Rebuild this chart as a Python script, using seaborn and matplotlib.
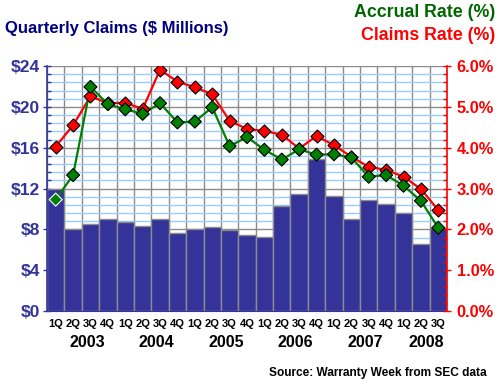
#!/usr/bin/env python3
"""Quarterly warranty claims with accrual and claims rates."""

import matplotlib

matplotlib.use("Agg")

import matplotlib.pyplot as plt
import matplotlib.transforms as mtransforms
import numpy as np
import pandas as pd
import seaborn as sns
from matplotlib.ticker import FixedLocator, MultipleLocator


QUARTERS = ["1Q", "2Q", "3Q", "4Q"] * 5 + ["1Q", "2Q", "3Q"]
YEARS = ["2003", "2004", "2005", "2006", "2007", "2008"]
CLAIMS = [
    12.0, 8.0, 8.5, 9.0, 8.75, 8.3, 9.05, 7.6, 8.0, 8.2, 7.9, 7.5,
    7.3, 10.3, 11.5, 14.85, 11.3, 9.05, 10.9, 10.45, 9.65, 6.6, 8.15,
]
CLAIMS_RATE = [
    4.03, 4.55, 5.26, 5.09, 5.10, 4.95, 5.91, 5.62, 5.48, 5.31, 4.66, 4.46,
    4.41, 4.32, 3.98, 4.29, 4.06, 3.78, 3.53, 3.46, 3.29, 2.99, 2.47,
]
ACCRUAL_RATE = [
    2.73, 3.33, 5.49, 5.07, 4.94, 4.83, 5.09, 4.62, 4.64, 4.99, 4.04, 4.26,
    3.95, 3.71, 3.96, 3.83, 3.84, 3.76, 3.29, 3.33, 3.07, 2.70, 2.04,
]

BAR_COLOR = "#333399"
NAVY = "#000080"
GREEN = "#008000"
RED = "#FF0000"
GRID_GRAY = "#8C8C8C"
GRID_BLUE = "#99CCFF"


def draw_rate(ax, frame, column, color, edgecolors):
    sns.lineplot(data=frame, x="pos", y=column, color=color,
                 linewidth=1.6, ax=ax)
    sns.scatterplot(data=frame, x="pos", y=column, color=color, marker="D",
                    s=44, edgecolors=edgecolors, linewidth=0.8, zorder=3,
                    ax=ax)


def main() -> None:
    sns.set_style("white")
    plt.rcParams["font.family"] = ["Liberation Sans", "DejaVu Sans"]
    plt.rcParams["font.weight"] = "bold"

    n = len(CLAIMS)
    frame = pd.DataFrame(
        {
            "pos": np.arange(n),
            "label": [f"{q}_{i}" for i, q in enumerate(QUARTERS)],
            "claims": CLAIMS,
            "claims_rate": CLAIMS_RATE,
            "accrual_rate": ACCRUAL_RATE,
        }
    )

    fig = plt.figure(figsize=(5.0, 3.85), dpi=100)
    fig.patch.set_facecolor("white")
    ax = fig.add_axes([0.094, 0.192, 0.8, 0.6364])

    sns.barplot(
        data=frame,
        x="label",
        y="claims",
        color=BAR_COLOR,
        saturation=1,
        width=1.0,
        edgecolor=GRID_GRAY,
        linewidth=1.0,
        ax=ax,
    )
    for patch in ax.patches:
        patch.set_facecolor(BAR_COLOR)

    ax.set_xlim(-0.5, n - 0.5)
    ax.set_ylim(0, 24)
    ax.set_axisbelow(True)
    ax.set_xlabel("")
    ax.set_ylabel("")

    # grid: gray every $4 (1%), light blue every $0.8 (0.2%)
    ax.yaxis.set_major_locator(MultipleLocator(4))
    ax.yaxis.set_minor_locator(MultipleLocator(0.8))
    ax.grid(which="minor", axis="y", color=GRID_BLUE, linewidth=1.0)
    ax.grid(which="major", axis="y", color=GRID_GRAY, linewidth=1.0)
    ax.xaxis.set_minor_locator(FixedLocator(np.arange(-0.5, n, 1.0)))
    ax.grid(which="minor", axis="x", color=GRID_GRAY, linewidth=1.0)

    ax.set_yticks(range(0, 25, 4))
    ax.set_yticklabels([f"${v}" for v in range(0, 25, 4)])
    ax.tick_params(axis="y", which="major", direction="inout", length=6,
                   width=1, color=BAR_COLOR, labelcolor=BAR_COLOR,
                   labelsize=12.5, pad=2)
    ax.tick_params(axis="y", which="minor", direction="in", length=3,
                   width=1, color=BAR_COLOR)
    for label in ax.get_yticklabels():
        label.set_fontweight("bold")

    ax.set_xticks(range(n))
    ax.set_xticklabels(QUARTERS)
    ax.tick_params(axis="x", which="major", length=0, labelsize=8.0, pad=6,
                   labelcolor="black")
    ax.tick_params(axis="x", which="minor", direction="out", length=4,
                   width=1, color="black")
    for label in ax.get_xticklabels():
        label.set_fontweight("bold")

    for side in ["top", "right"]:
        ax.spines[side].set_visible(False)
    ax.spines["left"].set_color(BAR_COLOR)
    ax.spines["bottom"].set_color(BAR_COLOR)
    ax.spines["left"].set_linewidth(1.2)

    trans = mtransforms.blended_transform_factory(ax.transData, ax.transAxes)
    starts = [i for i, q in enumerate(QUARTERS) if q == "1Q"]
    for year, start in zip(YEARS, starts):
        end = min(start + 4, n)
        center = (start + end - 1) / 2
        ax.text(center + 0.3, -0.13, year, transform=trans, ha="center",
                va="center", fontsize=11.5, fontweight="bold", color="black")

    # rates on the right axis, accrual drawn on top of claims
    ax2 = ax.twinx()
    draw_rate(ax2, frame, "claims_rate", RED, "black")
    accrual_edges = ["white"] + ["black"] * (n - 1)
    draw_rate(ax2, frame, "accrual_rate", GREEN, accrual_edges)
    ax2.set_ylim(0, 6)
    ax2.set_xlim(-0.5, n - 0.5)
    ax2.set_xlabel("")
    ax2.set_ylabel("")
    ax2.yaxis.set_major_locator(MultipleLocator(1))
    ax2.yaxis.set_minor_locator(MultipleLocator(0.2))
    ax2.set_yticks(np.arange(0, 6.1, 1))
    ax2.set_yticklabels([f"{v:.1f}%" for v in np.arange(0, 6.1, 1)])
    ax2.tick_params(axis="y", which="major", direction="inout", length=6,
                    width=1, color=RED, labelcolor=RED, labelsize=11.8, pad=4)
    ax2.tick_params(axis="y", which="minor", direction="in", length=3,
                    width=1, color=RED)
    for label in ax2.get_yticklabels():
        label.set_fontweight("bold")
    for side in ["top", "left", "bottom"]:
        ax2.spines[side].set_visible(False)
    ax2.spines["right"].set_color(RED)
    ax2.spines["right"].set_linewidth(1.2)

    fig.text(0.01, 0.925, "Quarterly Claims ($ Millions)", color=NAVY,
             fontsize=12, fontweight="bold", ha="left", va="center")
    fig.text(0.99, 0.967, "Accrual Rate (%)", color="#006600",
             fontsize=12.8, fontweight="bold", ha="right", va="center")
    fig.text(0.99, 0.907, "Claims Rate (%)", color=RED,
             fontsize=12.8, fontweight="bold", ha="right", va="center")
    fig.text(0.974, 0.031, "Source: Warranty Week from SEC data",
             color="black", fontsize=8.6, fontweight="bold", ha="right",
             va="center")

    fig.savefig("out.png", dpi=100, facecolor="white")
    plt.close(fig)


if __name__ == "__main__":
    main()
